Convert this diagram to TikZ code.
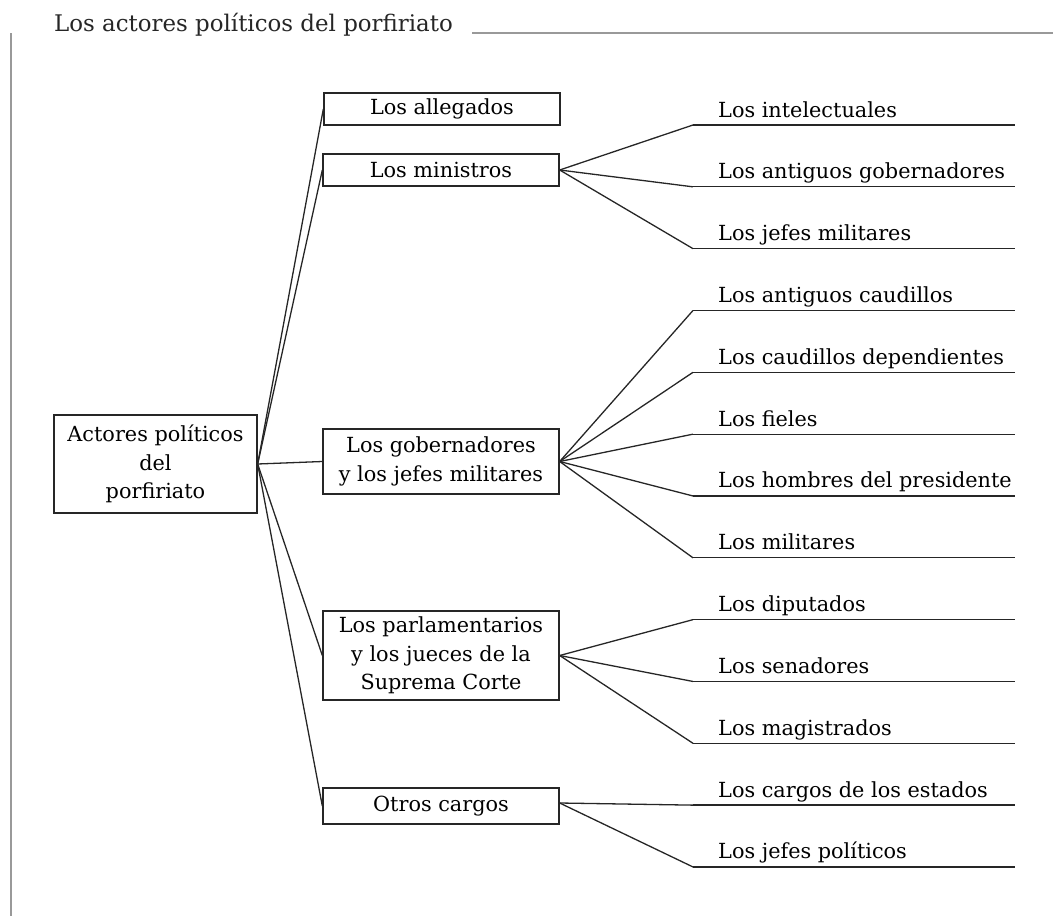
\documentclass[tikz,border=0pt]{standalone}
\usepackage{fontspec}
\setmainfont{DejaVu Serif}

\begin{document}
\begin{tikzpicture}[x=1pt, y=-1pt,
    box/.style={draw=black!85, line width=1.35pt, align=center, inner sep=0pt,
        minimum width=236pt, font=\fontsize{20.8}{28.5}\selectfont},
    leaftext/.style={anchor=base west, inner sep=0pt, font=\fontsize{20.8}{28.5}\selectfont},
    link/.style={black!85, line width=1.3pt},
    rule/.style={black!40, line width=1.5pt}]

    % page frame, in pixels of the original
    \useasboundingbox (0,0) rectangle (1053,916);

    % title and the gray rules around it
    \node[anchor=base west, inner sep=0pt, font=\fontsize{22.9}{26}\selectfont, text=black!85] (title) at (54,31) {Los actores políticos del porfiriato};
    \draw[rule] (472,33) -- (1053,33);
    \draw[rule] (11,33) -- (11,916);

    % the root and the five groups
    \node[box, minimum width=203pt, minimum height=98pt] (root) at (155.5,464) {Actores políticos\\del\\porfiriato};
    \node[box, minimum height=32pt] (alleg) at (442,109) {Los allegados};
    \node[box, minimum height=32pt] (minis) at (441,170) {Los ministros};
    \node[box, minimum height=65pt] (gober) at (441,461.5) {Los gobernadores\\y los jefes militares};
    \node[box, minimum height=89pt] (parla) at (441,655.5) {Los parlamentarios\\y los jueces de la\\Suprema Corte};
    \node[box, minimum height=36pt] (otros) at (441,806) {Otros cargos};

    \foreach \b in {alleg, minis, gober, parla, otros}
        \draw[link] (root.east) -- (\b.west);

    % the leaves: a label sitting on a rule
    \foreach \txt [count=\i] in {Los intelectuales, Los antiguos gobernadores, Los jefes militares,
            Los antiguos caudillos, Los caudillos dependientes, Los fieles,
            Los hombres del presidente, Los militares, Los diputados, Los senadores,
            Los magistrados, Los cargos de los estados, Los jefes políticos} {
        \coordinate (l\i) at (693,{125+(\i-1)*61.83});
        \coordinate (r\i) at (1015,{125+(\i-1)*61.83});
        \draw[link] (l\i) -- (r\i);
        \node[leaftext] (t\i) at ([xshift=25pt, yshift=8pt]l\i) {\txt};
    }

    % which group each leaf hangs from
    \foreach \i in {1,2,3} \draw[link] (minis.east) -- (l\i);
    \foreach \i in {4,...,8} \draw[link] (gober.east) -- (l\i);
    \foreach \i in {9,10,11} \draw[link] (parla.east) -- (l\i);
    \foreach \i in {12,13} \draw[link] ([yshift=3pt]otros.east) -- (l\i);

\end{tikzpicture}
\end{document}
